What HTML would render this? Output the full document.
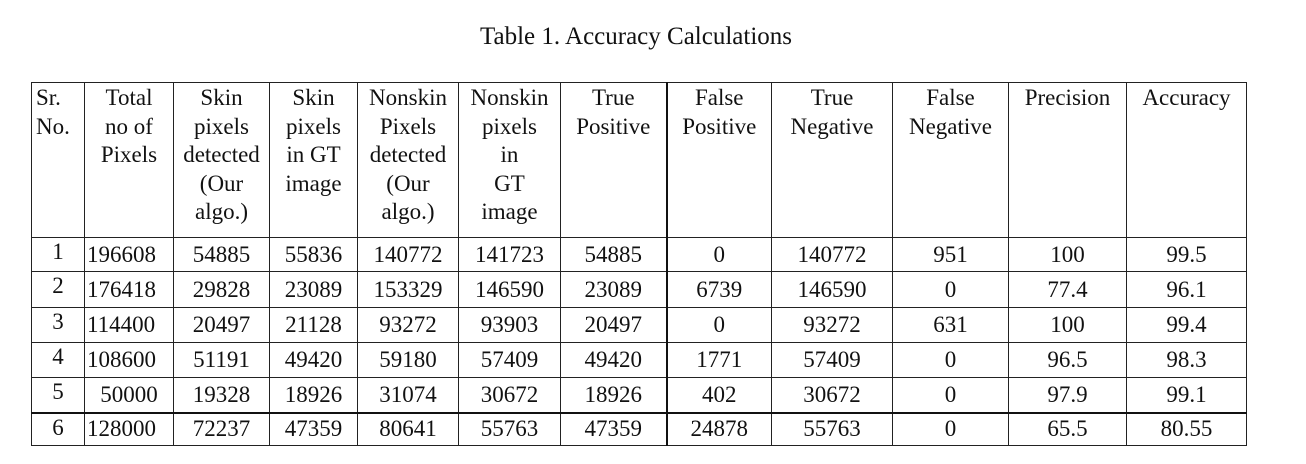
<!DOCTYPE html>
<html><head><meta charset="utf-8"><style>
body{margin:0;width:1306px;height:464px;background:#fff;font-family:"Liberation Serif",serif;color:#111;position:relative;overflow:hidden}
#title{position:absolute;left:0;width:1272px;top:23px;text-align:center;font-size:25px}
table{position:absolute;left:31px;top:82px;border-collapse:collapse;table-layout:fixed;font-size:23px}
td,th{border:1.5px solid #222;padding:0;text-align:center;font-weight:normal}
th{vertical-align:top;line-height:28.5px;padding-top:1px}
td{vertical-align:middle;line-height:24px}
td.l{text-align:left;padding-left:2px}
td.s{vertical-align:top;padding-top:2px}
.tc{border-right:2.5px solid #111}
tr.r6 td{border-top:2.5px solid #111}
</style></head><body>
<div id="title">Table 1. Accuracy Calculations</div>
<table>
<colgroup><col style="width:53px"><col style="width:89px"><col style="width:96px"><col style="width:88px"><col style="width:101px"><col style="width:102px"><col style="width:106px"><col style="width:105px"><col style="width:121px"><col style="width:116px"><col style="width:118px"><col style="width:120px"></colgroup>
<tr style="height:155px">
<th style="text-align:left;padding-left:4px">Sr.<br>No.</th>
<th>Total<br>no of<br>Pixels</th>
<th>Skin<br>pixels<br>detected<br>(Our<br>algo.)</th>
<th>Skin<br>pixels<br>in GT<br>image</th>
<th>Nonskin<br>Pixels<br>detected<br>(Our<br>algo.)</th>
<th>Nonskin<br>pixels<br>in<br>GT<br>image</th>
<th class="tc">True<br>Positive</th>
<th>False<br>Positive</th>
<th>True<br>Negative</th>
<th>False<br>Negative</th>
<th>Precision</th>
<th>Accuracy</th>
</tr>
<tr style="height:34px"><td class="s">1</td><td class="l">196608</td><td>54885</td><td>55836</td><td>140772</td><td>141723</td><td class="tc">54885</td><td>0</td><td>140772</td><td>951</td><td>100</td><td>99.5</td></tr>
<tr style="height:36px"><td class="s">2</td><td class="l">176418</td><td>29828</td><td>23089</td><td>153329</td><td>146590</td><td class="tc">23089</td><td>6739</td><td>146590</td><td>0</td><td>77.4</td><td>96.1</td></tr>
<tr style="height:35px"><td class="s">3</td><td class="l">114400</td><td>20497</td><td>21128</td><td>93272</td><td>93903</td><td class="tc">20497</td><td>0</td><td>93272</td><td>631</td><td>100</td><td>99.4</td></tr>
<tr style="height:35px"><td class="s">4</td><td class="l">108600</td><td>51191</td><td>49420</td><td>59180</td><td>57409</td><td class="tc">49420</td><td>1771</td><td>57409</td><td>0</td><td>96.5</td><td>98.3</td></tr>
<tr style="height:35px"><td class="s">5</td><td>50000</td><td>19328</td><td>18926</td><td>31074</td><td>30672</td><td class="tc">18926</td><td>402</td><td>30672</td><td>0</td><td>97.9</td><td>99.1</td></tr>
<tr class="r6" style="height:33px"><td class="s">6</td><td class="l">128000</td><td>72237</td><td>47359</td><td>80641</td><td>55763</td><td class="tc">47359</td><td>24878</td><td>55763</td><td>0</td><td>65.5</td><td>80.55</td></tr>
</table>
</body></html>
